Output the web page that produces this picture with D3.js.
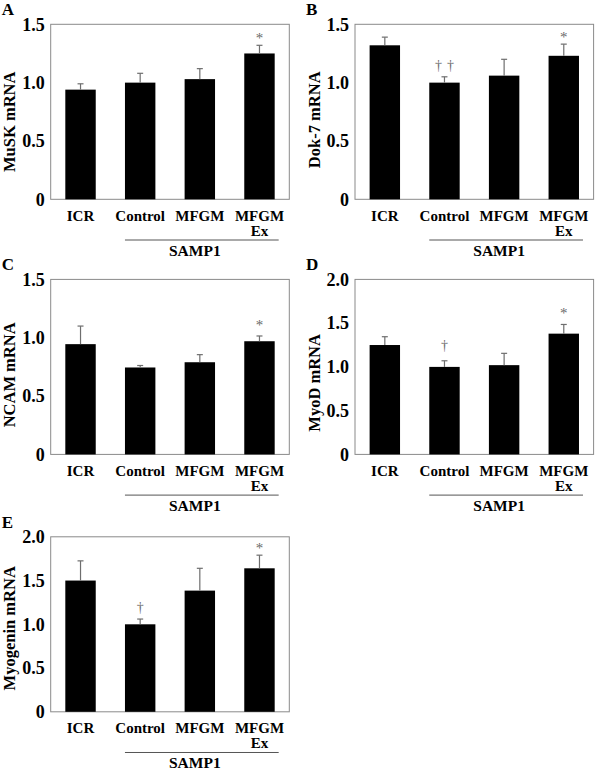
<!DOCTYPE html>
<html>
<head>
<meta charset="utf-8">
<script src="https://cdn.jsdelivr.net/npm/d3@7/dist/d3.min.js"></script>
<style>
  html, body { margin: 0; padding: 0; background: #fff; }
  svg { display: block; }
  text { font-family: "Liberation Serif", "Times New Roman", serif; }
</style>
</head>
<body>
<svg id="chart" width="600" height="774"></svg>
<script>
// ---- data ----
const categories = ["ICR", "Control", "MFGM", "MFGM Ex"];
const groupLabel = "SAMP1";

const panelLetters = ["A", "B", "C", "D", "E"];
const yTitles = ["MuSK mRNA", "Dok-7 mRNA", "NCAM mRNA", "MyoD mRNA", "Myogenin mRNA"];

const muskMean = [0.94, 1.00, 1.03, 1.25];
const muskErr  = [0.05, 0.08, 0.09, 0.07];
const muskSig  = ["", "", "", "*"];

const dok7Mean = [1.32, 1.00, 1.06, 1.23];
const dok7Err  = [0.07, 0.05, 0.14, 0.10];
const dok7Sig  = ["", "† †", "", "*"];

const ncamMean = [0.945, 0.745, 0.79, 0.97];
const ncamErr  = [0.155, 0.017, 0.065, 0.045];
const ncamSig  = ["", "", "", "*"];

const myodMean = [1.25, 1.00, 1.02, 1.38];
const myodErr  = [0.095, 0.07, 0.135, 0.105];
const myodSig  = ["", "†", "", "*"];

const myogMean = [1.50, 1.00, 1.385, 1.64];
const myogErr  = [0.225, 0.06, 0.255, 0.15];
const myogSig  = ["", "†", "", "*"];

const ticks15 = [0, 0.5, 1.0, 1.5];
const ticks20 = [0, 0.5, 1.0, 1.5, 2.0];
const tickLabels15 = ["0", "0.5", "1.0", "1.5"];
const tickLabels20 = ["0", "0.5", "1.0", "1.5", "2.0"];

// ---- layout (positions only) ----
const plotW = 238.6, plotH = 175;
const layout = [
  { x: 50.7, y: 24.3,  titleDy: 10, sigDy: 0 },
  { x: 355,  y: 24.3,  titleDy: 8,  sigDy: 0 },
  { x: 50.7, y: 279.4, titleDy: 8,  sigDy: 4 },
  { x: 355,  y: 279.4, titleDy: 16, sigDy: 4 },
  { x: 50.7, y: 536.8, titleDy: 4,  sigDy: 0 }
];

const panels = [
  { mean: muskMean, err: muskErr, sig: muskSig, max: 1.5, ticks: ticks15, labels: tickLabels15 },
  { mean: dok7Mean, err: dok7Err, sig: dok7Sig, max: 1.5, ticks: ticks15, labels: tickLabels15 },
  { mean: ncamMean, err: ncamErr, sig: ncamSig, max: 1.5, ticks: ticks15, labels: tickLabels15 },
  { mean: myodMean, err: myodErr, sig: myodSig, max: 2.0, ticks: ticks20, labels: tickLabels20 },
  { mean: myogMean, err: myogErr, sig: myogSig, max: 2.0, ticks: ticks20, labels: tickLabels20 }
];

const svg = d3.select("#chart");
const FONT = '"Liberation Serif", "Times New Roman", serif';

panels.forEach((p, i) => {
  const L = layout[i];
  const g = svg.append("g").attr("transform", `translate(${L.x},${L.y})`);

  const x = d3.scaleBand().domain(categories).range([0, plotW])
    .paddingInner(0.49).paddingOuter(0.245);
  const y = d3.scaleLinear().domain([0, p.max]).range([plotH, 0]);

  // frame
  g.append("rect")
    .attr("x", 0).attr("y", 0).attr("width", plotW).attr("height", plotH)
    .attr("fill", "none").attr("stroke", "#8a8a8a").attr("stroke-width", 1);

  // y axis
  const ax = g.append("g").call(
    d3.axisLeft(y).tickValues(p.ticks).tickSize(0).tickPadding(6)
      .tickFormat((d, k) => p.labels[k])
  );
  ax.select(".domain").remove();
  ax.selectAll("text")
    .attr("font-family", FONT)
    .attr("font-weight", "bold").attr("font-size", 18).attr("fill", "#000");

  // bars
  const data = categories.map((c, k) => ({ c, v: p.mean[k], e: p.err[k], s: p.sig[k] }));
  g.selectAll("rect.bar").data(data).enter().append("rect")
    .attr("class", "bar")
    .attr("x", d => x(d.c)).attr("width", x.bandwidth())
    .attr("y", d => y(d.v)).attr("height", d => plotH - y(d.v))
    .attr("fill", "#000");

  // error bars (upper only)
  const cxOf = d => x(d.c) + x.bandwidth() / 2;
  const eb = g.selectAll("g.err").data(data).enter().append("g").attr("class", "err");
  eb.append("line")
    .attr("x1", cxOf).attr("x2", cxOf)
    .attr("y1", d => y(d.v)).attr("y2", d => y(d.v + d.e))
    .attr("stroke", "#6e6e6e").attr("stroke-width", 1.2);
  eb.append("line")
    .attr("x1", d => cxOf(d) - 3).attr("x2", d => cxOf(d) + 3)
    .attr("y1", d => y(d.v + d.e)).attr("y2", d => y(d.v + d.e))
    .attr("stroke", "#6e6e6e").attr("stroke-width", 1.2);

  // significance marks
  data.filter(d => d.s).forEach(d => {
    const top = y(d.v + d.e);
    if (d.s === "*") {
      g.append("text")
        .attr("x", cxOf(d)).attr("y", top - 2 - L.sigDy)
        .attr("text-anchor", "middle")
        .attr("font-family", FONT).attr("font-size", 15)
        .attr("fill", "#6a6a6a")
        .text(d.s);
    } else {
      const marks = d.s.split(" ");
      marks.forEach((m, j) => {
        const off = (j - (marks.length - 1) / 2) * 12;
        g.append("text")
          .attr("x", cxOf(d) + off).attr("y", top - 7 - L.sigDy)
          .attr("text-anchor", "middle")
          .attr("font-family", FONT).attr("font-size", 14)
          .attr("fill", "#6a6a6a")
          .text(m);
      });
    }
  });

  // category labels (two-line label for the last group)
  data.forEach(d => {
    const parts = d.c === "MFGM Ex" ? ["MFGM", "Ex"] : [d.c];
    const t = g.append("text")
      .attr("text-anchor", "middle")
      .attr("font-weight", "bold").attr("font-size", 15);
    parts.forEach((s, j) => {
      t.append("tspan")
        .attr("x", cxOf(d)).attr("y", plotH + 21.4 + j * 15.3)
        .text(s);
    });
  });

  // group bracket line
  const gx1 = x("Control");
  const gx2 = x("MFGM Ex") + x.bandwidth() + 4;
  g.append("line")
    .attr("x1", gx1).attr("x2", gx2)
    .attr("y1", plotH + 40.7).attr("y2", plotH + 40.7)
    .attr("stroke", "#555").attr("stroke-width", 1);
  const midC = (x("Control") + x("MFGM Ex") + x.bandwidth()) / 2 - 5;
  g.append("text")
    .attr("x", midC).attr("y", plotH + 56.7)
    .attr("text-anchor", "middle")
    .attr("font-weight", "bold").attr("font-size", 15.5)
    .text(groupLabel);

  // y title
  g.append("text")
    .attr("transform", `translate(-41,${plotH / 2 + L.titleDy}) rotate(-90)`)
    .attr("text-anchor", "middle")
    .attr("dominant-baseline", "central")
    .attr("font-weight", "bold").attr("font-size", 16.5)
    .text(yTitles[i]);

  // panel letter
  svg.append("text")
    .attr("x", L.x - 49).attr("y", L.y - 9)
    .attr("font-weight", "bold").attr("font-size", 17)
    .text(panelLetters[i]);
});
</script>
</body>
</html>
